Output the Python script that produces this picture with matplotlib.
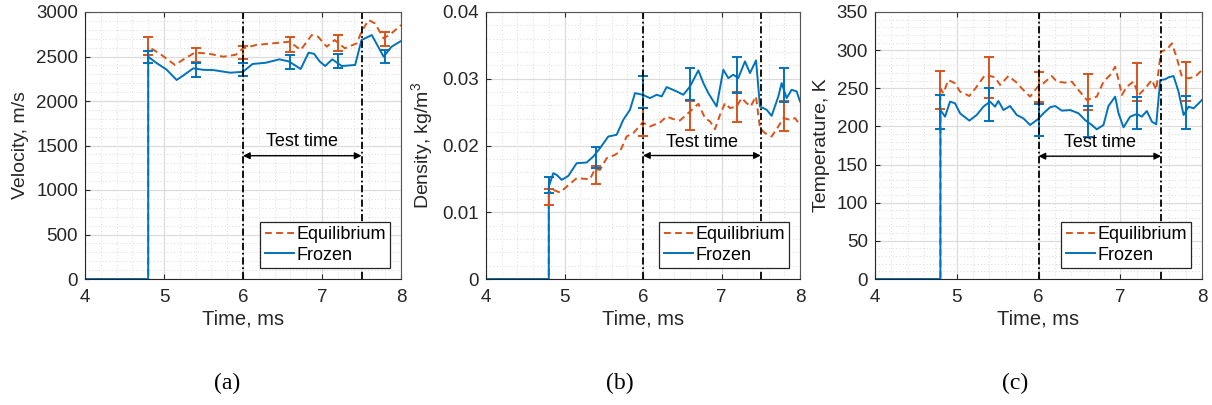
import numpy as np
import matplotlib
matplotlib.use("Agg")
import matplotlib.pyplot as plt
from matplotlib.ticker import MultipleLocator, FuncFormatter

plt.rcParams["font.family"] = ["Liberation Sans", "DejaVu Sans"]
plt.rcParams["mathtext.default"] = "regular"
plt.rcParams["font.size"] = 12

EQ_COLOR = "#D95319"
FR_COLOR = "#0072BD"
AX_COLOR = "#262626"

# ---- (a) velocity, m/s
vel_t_fr = [4.0, 4.8, 4.8, 4.9, 5.03, 5.16, 5.25, 5.37, 5.5, 5.62, 5.75, 5.84, 6.0, 6.12,
            6.29, 6.46, 6.58, 6.73, 6.83, 6.9, 6.97, 7.04, 7.13, 7.25, 7.42, 7.5, 7.63,
            7.78, 7.88, 8.0]
vel_fr = [0, 0, 2498, 2430, 2355, 2236, 2290, 2367, 2350, 2348, 2330, 2318, 2328, 2416,
          2430, 2468, 2445, 2360, 2543, 2530, 2445, 2393, 2468, 2393, 2405, 2685, 2741,
          2498, 2610, 2674]
vel_t_eq = [4.0, 4.8, 4.8, 4.95, 5.14, 5.25, 5.39, 5.55, 5.75, 5.91, 6.0, 6.17, 6.4, 6.59,
            6.73, 6.87, 6.95, 7.06, 7.16, 7.29, 7.44, 7.5, 7.59, 7.67, 7.78, 7.88, 8.0]
vel_eq = [0, 0, 2610, 2530, 2404, 2470, 2543, 2535, 2498, 2520, 2592, 2630, 2650, 2666,
          2573, 2741, 2723, 2610, 2685, 2592, 2648, 2779, 2910, 2872, 2704, 2760, 2854]

# ---- (b) density, kg/m^3
den_t_fr = [4.0, 4.8, 4.8, 4.857, 4.9, 4.964, 5.049, 5.155, 5.282, 5.367, 5.452, 5.558,
            5.664, 5.749, 5.834, 5.898, 5.996, 6.089, 6.174, 6.238, 6.301, 6.429, 6.514,
            6.599, 6.705, 6.769, 6.832, 6.938, 7.023, 7.087, 7.15, 7.214, 7.299, 7.363,
            7.44, 7.49, 7.575, 7.639, 7.724, 7.766, 7.83, 7.893, 7.957, 8.0]
den_fr = [0, 0, 0.01385, 0.01585, 0.0156, 0.01485, 0.01545, 0.01735, 0.01745, 0.01835,
          0.0196, 0.02135, 0.0216, 0.02385, 0.02535, 0.02785, 0.0276, 0.0271, 0.0276,
          0.02735, 0.02875, 0.0281, 0.0276, 0.02885, 0.03125, 0.02935, 0.02785, 0.02585,
          0.03135, 0.0301, 0.0306, 0.0301, 0.0326, 0.03085, 0.03275, 0.02585, 0.02535,
          0.02445, 0.02735, 0.02935, 0.0271, 0.02835, 0.0281, 0.0266]
den_t_eq = [4.0, 4.8, 4.8, 4.837, 4.943, 5.028, 5.155, 5.324, 5.388, 5.452, 5.537, 5.643,
            5.707, 5.791, 5.876, 5.996, 6.089, 6.217, 6.301, 6.386, 6.471, 6.599, 6.705,
            6.79, 6.854, 6.917, 6.981, 7.045, 7.108, 7.193, 7.257, 7.32, 7.371, 7.439,
            7.49, 7.554, 7.639, 7.724, 7.788, 7.873, 7.936, 8.0]
den_eq = [0, 0, 0.0126, 0.01345, 0.01295, 0.01385, 0.0151, 0.01495, 0.01645, 0.01635,
          0.0181, 0.0186, 0.0191, 0.02135, 0.02185, 0.02345, 0.02285, 0.02345, 0.02435,
          0.02395, 0.02375, 0.0251, 0.02625, 0.0241, 0.0236, 0.02245, 0.0246, 0.02635,
          0.0256, 0.02585, 0.0271, 0.02635, 0.02585, 0.02735, 0.0226, 0.02185, 0.02135,
          0.02285, 0.0241, 0.02385, 0.0241, 0.0231]

# ---- (c) temperature, K
tem_t_fr = [4.0, 4.8, 4.8, 4.857, 4.918, 4.979, 5.04, 5.154, 5.244, 5.326, 5.407, 5.469,
            5.509, 5.571, 5.652, 5.734, 5.815, 5.897, 5.991, 6.06, 6.142, 6.203, 6.285,
            6.387, 6.489, 6.57, 6.652, 6.713, 6.795, 6.856, 6.938, 6.979, 7.04, 7.121,
            7.203, 7.264, 7.325, 7.387, 7.44, 7.489, 7.55, 7.591, 7.652, 7.713, 7.775,
            7.836, 7.897, 8.0]
tem_fr = [0, 0, 221.5, 212.8, 232.5, 230.3, 217.2, 207.6, 215.0, 225.9, 232.5, 225.9,
          233.4, 221.5, 226.8, 215.0, 210.6, 201.9, 209.3, 217.2, 225.1, 226.8, 220.7,
          221.5, 217.2, 208.4, 201.9, 196.2, 201.9, 226.8, 239.0, 217.2, 198.8, 212.8,
          216.3, 212.8, 220.2, 206.3, 202.8, 260.9, 261.8, 264.4, 266.1, 245.6, 215.0,
          225.9, 223.7, 234.7]
tem_t_eq = [4.0, 4.8, 4.8, 4.836, 4.897, 4.979, 5.04, 5.154, 5.244, 5.346, 5.407, 5.469,
            5.53, 5.632, 5.734, 5.795, 5.897, 5.991, 6.06, 6.162, 6.224, 6.326, 6.407,
            6.489, 6.591, 6.713, 6.795, 6.877, 6.938, 6.979, 7.02, 7.081, 7.162, 7.224,
            7.305, 7.387, 7.44, 7.497, 7.571, 7.632, 7.693, 7.754, 7.836, 7.917, 8.0]
tem_eq = [0, 0, 249.9, 243.4, 260.9, 256.5, 245.6, 239.9, 252.1, 267.4, 266.1, 264.4,
          254.3, 266.1, 257.4, 249.9, 239.0, 252.1, 256.5, 266.1, 258.7, 257.4, 258.7,
          247.8, 234.7, 239.0, 258.7, 267.4, 278.3, 260.9, 241.2, 252.1, 258.7, 241.2,
          249.9, 260.9, 247.8, 298.0, 301.1, 308.9, 289.3, 265.2, 263.1, 265.2, 274.0]

# ---- error bars
eb_t = [4.8, 5.4, 6.0, 6.6, 7.2, 7.8]
vel_eb_eq = [2620, 2513, 2545, 2633, 2651, 2700]
vel_err_eq = [103, 79, 77, 82, 86, 79]
vel_eb_fr = [2494, 2348, 2355, 2438, 2445, 2498]
vel_err_fr = [71, 75, 75, 79, 79, 75]
den_eb_eq = [0.0123, 0.0156, 0.0235, 0.0245, 0.0257, 0.0244]
den_err_eq = [0.00115, 0.00135, 0.0021, 0.0022, 0.00225, 0.0022]
den_eb_fr = [0.0141, 0.0182, 0.028, 0.0292, 0.0306, 0.029]
den_err_fr = [0.00125, 0.00155, 0.0024, 0.0024, 0.0027, 0.00255]
tem_eb_eq = [247.7, 264.0, 252.0, 245.0, 258.0, 259.0]
tem_err_eq = [25, 27, 20, 24, 25, 26]
tem_eb_fr = [219.0, 228.5, 208.0, 206.0, 217.6, 218.0]
tem_err_fr = [22, 22, 21, 20.5, 21, 22]

test_start, test_end = 6.0, 7.5


def draw_panel(ax, t_eq, y_eq, t_fr, y_fr, eb_eq, err_eq, eb_fr, err_fr,
               ylim, ymajor, yminor, ylabel, arrow_y, text_y):
    ax.plot(t_eq, y_eq, color=EQ_COLOR, lw=1.4, ls=(0, (3.5, 2.2)), label="Equilibrium")
    ax.plot(t_fr, y_fr, color=FR_COLOR, lw=1.4, label="Frozen")
    ax.errorbar(eb_t, eb_eq, yerr=err_eq, fmt="none", ecolor=EQ_COLOR, elinewidth=1.4,
                capsize=3.5, capthick=1.4)
    ax.errorbar(eb_t, eb_fr, yerr=err_fr, fmt="none", ecolor=FR_COLOR, elinewidth=1.4,
                capsize=3.5, capthick=1.4)
    for xv in (test_start, test_end):
        ax.axvline(xv, color="black", lw=1.3, ls=(0, (4, 1.5, 1, 1.5)))
    ax.annotate("", xy=(test_start, arrow_y), xytext=(test_end, arrow_y),
                arrowprops=dict(arrowstyle="<|-|>", color="black", lw=1,
                                mutation_scale=10, shrinkA=0, shrinkB=0))
    ax.text((test_start + test_end) / 2, text_y, "Test time", ha="center", va="center",
            fontsize=13)

    ax.set_xlim(4, 8)
    ax.set_ylim(*ylim)
    ax.xaxis.set_major_locator(MultipleLocator(1))
    ax.xaxis.set_minor_locator(MultipleLocator(0.2))
    ax.yaxis.set_major_locator(MultipleLocator(ymajor))
    ax.yaxis.set_minor_locator(MultipleLocator(yminor))
    ax.yaxis.set_major_formatter(FuncFormatter(lambda v, p: f"{v:g}"))
    ax.grid(which="major", color="#dcdcdc", lw=0.9)
    ax.grid(which="minor", color="#d9d9d9", lw=0.7, ls=(0, (1, 2.5)))
    ax.set_axisbelow(True)
    ax.tick_params(which="major", direction="in", length=3.5, width=0.8, top=True,
                   right=False, colors=AX_COLOR, labelsize=13.5, pad=5)
    ax.tick_params(axis="x", which="major", pad=7)
    ax.tick_params(which="minor", length=0)
    for s in ax.spines.values():
        s.set_color("#555555")
        s.set_linewidth(0.8)
    ax.spines["left"].set_color(AX_COLOR)
    ax.spines["bottom"].set_color(AX_COLOR)
    ax.set_xlabel("Time, ms", fontsize=14.5, color=AX_COLOR, labelpad=3)
    ax.set_ylabel(ylabel, fontsize=14, color=AX_COLOR, labelpad=5)
    leg = ax.legend(loc="lower right", fontsize=13, frameon=True, fancybox=False,
                    edgecolor=AX_COLOR, framealpha=1, handlelength=1.65,
                    handletextpad=0.1, borderpad=0.25, labelspacing=0.2,
                    borderaxespad=0.6)
    leg.get_frame().set_linewidth(0.9)


fig = plt.figure(figsize=(12.12, 4.05), dpi=100)
ax_a = fig.add_axes([85 / 1212, 1 - 279 / 405, 316 / 1212, 267 / 405])
ax_b = fig.add_axes([486 / 1212, 1 - 279 / 405, 314 / 1212, 267 / 405])
ax_c = fig.add_axes([875 / 1212, 1 - 279 / 405, 327 / 1212, 267 / 405])

draw_panel(ax_a, vel_t_eq, vel_eq, vel_t_fr, vel_fr, vel_eb_eq, vel_err_eq,
           vel_eb_fr, vel_err_fr, (0, 3000), 500, 100, "Velocity, m/s", 1385, 1540)
draw_panel(ax_b, den_t_eq, den_eq, den_t_fr, den_fr, den_eb_eq, den_err_eq,
           den_eb_fr, den_err_fr, (0, 0.04), 0.01, 0.002, "Density, kg/m$^3$",
           0.0185, 0.0205)
draw_panel(ax_c, tem_t_eq, tem_eq, tem_t_fr, tem_fr, tem_eb_eq, tem_err_eq,
           tem_eb_fr, tem_err_fr, (0, 350), 50, 10, "Temperature, K", 161, 179)

for x, lab in [(227, "(a)"), (620, "(b)"), (1015, "(c)")]:
    fig.text(x / 1212, 1 - 383 / 405, lab, ha="center", va="center", fontsize=17,
             family=["Liberation Serif", "DejaVu Serif"], color="black")

fig.savefig("out.png", dpi=100)
